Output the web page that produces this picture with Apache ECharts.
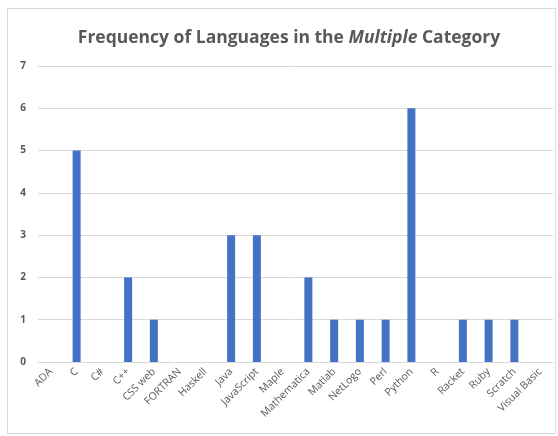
<!DOCTYPE html>
<html>
<head>
<meta charset="utf-8">
<script src="https://cdn.jsdelivr.net/npm/echarts@6/dist/echarts.min.js"></script>
<style>
html, body { margin: 0; padding: 0; background: #fff; }
#frame { position: absolute; left: 7px; top: 8px; width: 549px; height: 426px; border: 1px solid #d9d9d9; box-sizing: border-box; }
#main { width: 558px; height: 436px; }
</style>
</head>
<body>
<div id="frame"></div>
<div id="main"></div>
<script>
// 类别和数值
var languages = ['ADA', 'C', 'C#', 'C++', 'CSS web', 'FORTRAN', 'Haskell', 'Java', 'JavaScript', 'Maple',
    'Mathematica', 'Matlab', 'NetLogo', 'Perl', 'Python', 'R', 'Racket', 'Ruby', 'Scratch', 'Visual Basic'];
var frequency = [0, 5, 0, 2, 1, 0, 0, 3, 3, 0, 2, 1, 1, 1, 6, 0, 1, 1, 1, 0];
var yTicks = [0, 1, 2, 3, 4, 5, 6, 7];

var myChart = echarts.init(document.getElementById('main'));
var option = {
    animation: false,
    title: {
        text: '{n|Frequency of Languages in the }{i|Multiple}{n| Category}',
        left: 284,
        textAlign: 'center',
        top: 24,
        textStyle: {
            rich: {
                n: { fontFamily: 'Open Sans', fontSize: 17.5, fontWeight: 'bold', color: '#595959' },
                i: { fontFamily: 'Open Sans', fontSize: 17.5, fontWeight: 'bold', fontStyle: 'italic', color: '#595959' }
            }
        }
    },
    grid: { left: 38, right: 5, top: 66, bottom: 74 },
    xAxis: {
        type: 'category',
        data: languages,
        axisLine: { lineStyle: { color: '#d9d9d9' } },
        axisTick: { show: false },
        axisLabel: {
            interval: 0,
            rotate: 45,
            fontFamily: 'Open Sans',
            fontSize: 10.5,
            color: '#595959',
            margin: 8
        }
    },
    yAxis: {
        type: 'value',
        min: yTicks[0],
        max: yTicks[yTicks.length - 1],
        interval: 1,
        axisLine: { show: false },
        axisTick: { show: false },
        splitLine: { lineStyle: { color: '#d9d9d9' } },
        axisLabel: { fontFamily: 'Open Sans', fontSize: 10, fontWeight: 'bold', color: '#595959', margin: 12 }
    },
    series: [{
        type: 'bar',
        data: frequency,
        barWidth: 8,
        itemStyle: { color: '#4472c4' }
    }]
};
myChart.setOption(option);
</script>
</body>
</html>
